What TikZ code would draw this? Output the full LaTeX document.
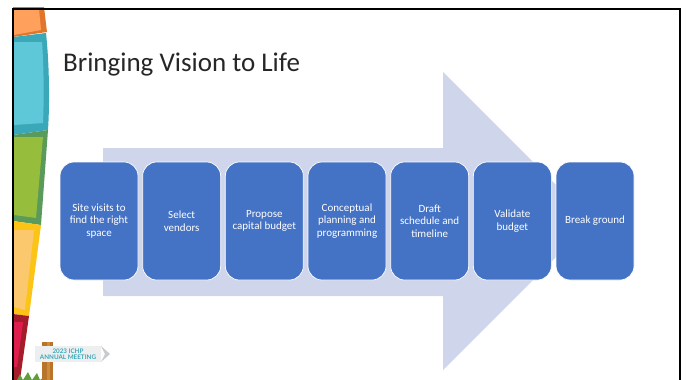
\documentclass[tikz,border=0pt]{standalone}
\usepackage{fontspec}
\setmainfont{Carlito}
\newfontfamily\signfont{Lato}
\usetikzlibrary{positioning}
\definecolor{boxblue}{HTML}{4472C4}
\definecolor{arrowblue}{HTML}{CFD5EA}
\definecolor{orangeout}{HTML}{E0762C}
\definecolor{orangein}{HTML}{FFA05C}
\definecolor{tealout}{HTML}{3AA8B8}
\definecolor{tealin}{HTML}{5FC8D8}
\definecolor{greenout}{HTML}{5A9A5A}
\definecolor{greenin}{HTML}{96BE3C}
\definecolor{yellowout}{HTML}{FBC416}
\definecolor{yellowin}{HTML}{FBC86E}
\definecolor{redout}{HTML}{A51C2A}
\definecolor{redin}{HTML}{DE1F4E}
\definecolor{postdark}{HTML}{B8742A}
\definecolor{postlight}{HTML}{CF8A3A}
\definecolor{signgray}{HTML}{EDEEEF}
\definecolor{signtext}{HTML}{3AA8B8}
\definecolor{grass}{HTML}{5E9E3C}
\tikzset{stepbox/.style={rounded corners=14pt,minimum width=78pt,minimum height=118pt,draw=white,line width=0.7pt,fill=boxblue,text=white,align=center,font=\fontsize{11}{12.5}\selectfont}}
\begin{document}
\begin{tikzpicture}[x=1pt,y=-1pt]
\useasboundingbox (0,0) rectangle (686,380);
% big arrow
\fill[arrowblue] (103,148) -- (443,148) -- (443,72) -- (592,221) -- (443,370) -- (443,296) -- (103,296) -- cycle;

% side ribbon
\fill[orangeout] (13,7) -- (44,7) -- (47,32) -- (13,37) -- cycle;
\fill[orangein] (14,9) -- (39,9) -- (41,30) -- (14,35) -- cycle;
\fill[tealout] (13,37) -- (46,33) .. controls (49,60) and (50,100) .. (48,130) -- (13,135) -- cycle;
\fill[tealin] (14,42) -- (42,42) .. controls (44,70) and (44,100) .. (43,123) -- (14,125) -- cycle;
\fill[greenout] (13,135) -- (48,130) -- (41,225) -- (13,221) -- cycle;
\fill[greenin] (14,137) -- (43,137) -- (36,218) -- (14,215) -- cycle;
\fill[yellowout] (13,221) -- (41,225) -- (29,316) -- (13,314) -- cycle;
\fill[yellowin] (14,230) -- (34,230) -- (25,310) -- (14,307) -- cycle;
\fill[redout] (13,314) -- (29,316) -- (20,380) -- (13,380) -- cycle;
\fill[redin] (14,322) -- (23,322) -- (17,367) -- (14,367) -- cycle;

% slide frame
\draw[line width=2pt] (12.5,380) -- (12.5,8.5) -- (679.5,8.5) -- (679.5,380);

\node (title) [anchor=west,inner sep=0pt,text=black!85,font=\fontsize{27}{30}\selectfont] at (63,65) {Bringing Vision to Life};

\node (b1) [stepbox] at (99,221) {Site visits to\\find the right\\space};
\node (b2) [stepbox,right of=b1,node distance=82.67pt] {Select\\vendors};
\node (b3) [stepbox,right of=b2,node distance=82.67pt] {Propose\\capital budget};
\node (b4) [stepbox,right of=b3,node distance=82.67pt] {Conceptual\\planning and\\programming};
\node (b5) [stepbox,right of=b4,node distance=82.67pt] {Draft\\schedule and\\timeline};
\node (b6) [stepbox,right of=b5,node distance=82.67pt] {Validate\\budget};
\node (b7) [stepbox,right of=b6,node distance=82.67pt] {Break ground};

% sign and grass
\fill[grass] (17,380) -- (20,374) -- (23,380) -- (28,372) -- (32,380) -- (37,373) -- (40,380) -- (44,377) -- (46,380) -- cycle;
\fill[postdark] (42,342) rectangle (53,380);
\fill[postlight] (47,342) rectangle (50,380);
\fill[signgray] (35,346) -- (101,346) -- (101,362) -- (35,362) -- cycle;
\fill[signgray!85!black] (101,346) -- (110,354) -- (101,362) -- (105,354) -- cycle;
\node (sign) [inner sep=0pt,align=center,text=signtext,font=\signfont\bfseries\fontsize{6.3}{6}\selectfont] at (68,354) {2023 ICHP\\ANNUAL MEETING};
\end{tikzpicture}
\end{document}
